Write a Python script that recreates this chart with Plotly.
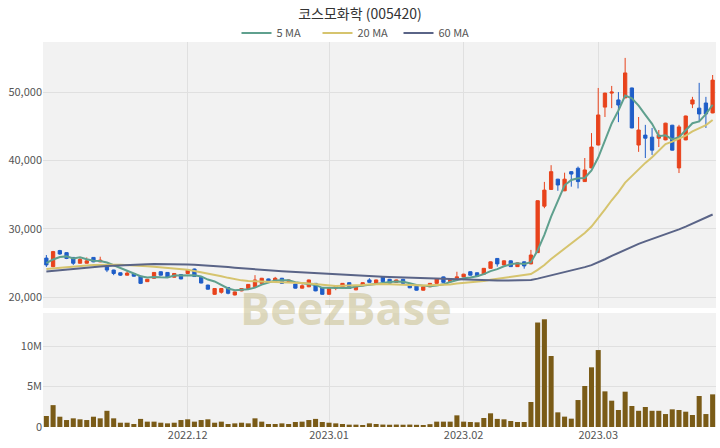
import pandas as pd
import plotly.graph_objects as go

# ---------------- data ----------------
holidays = ["2022-12-30", "2023-01-23", "2023-01-24", "2023-03-01"]
dates = [d.strftime("%Y-%m-%d") for d in pd.bdate_range("2022-11-02", "2023-03-27")
         if d.strftime("%Y-%m-%d") not in holidays]

month_ticks = ["2022-12-01", "2023-01-02", "2023-02-01", "2023-03-02"]
month_labels = ["2022.12", "2023.01", "2023.02", "2023.03"]

opens = [25700, 24450, 26800, 26500, 25800, 24950, 24950, 25800, 25150, 24700,
         23950, 23550, 23200, 23450, 23050, 22250, 22750, 23700, 23600, 22900,
         23300, 23450, 24100, 22900, 21750, 20400, 20700, 21400, 20300, 20900,
         21250, 21500, 22000, 22650, 22250, 22750, 22250, 21900, 21300, 21500,
         22000, 21350, 20400, 21250, 21350, 22100, 21050, 21650, 22500, 22000,
         22950, 22600, 22150, 22600, 21850, 21600, 21000, 21500, 22000, 22950,
         22250, 22750, 22950, 23700, 23550, 23350, 24200, 25650, 24700, 25300,
         24450, 25150, 24850, 26500, 33300, 35750, 37250, 35550, 38350, 38850,
         36900, 38900, 42250, 47800, 49850, 48850, 49150, 50600, 42250, 43700,
         43400, 43250, 43000, 45150, 38900, 43000, 48250, 47650, 48400, 46950]
highs = [26150, 26750, 26900, 26550, 25850, 25800, 25800, 25850, 25900, 24750,
         24000, 23600, 23850, 23500, 23100, 22650, 23650, 23750, 23650, 23500,
         23350, 24000, 24150, 22950, 21800, 21300, 21300, 21450, 20800, 21300,
         21900, 23200, 22800, 22700, 22950, 22800, 22550, 21950, 21850, 22550,
         22050, 21400, 21300, 21700, 22050, 22150, 21550, 22150, 22750, 22550,
         23000, 22650, 22550, 22650, 21900, 21650, 21550, 22050, 22700, 23000,
         22700, 23700, 23400, 23750, 23600, 24250, 25200, 25700, 25350, 25350,
         25050, 25200, 26900, 34150, 36850, 39300, 37300, 38200, 38400, 39100,
         40350, 44000, 50600, 49900, 50900, 50000, 55000, 50650, 46350, 45200,
         44750, 44450, 45500, 45200, 45200, 46550, 49300, 51350, 49300, 52500]
lows = [24400, 24350, 26200, 25550, 24700, 24900, 24900, 25100, 25100, 23650,
        23200, 23100, 23150, 23000, 21900, 22200, 22700, 23150, 22850, 22850,
        22600, 23400, 22950, 22000, 21100, 20300, 20500, 20400, 20250, 20850,
        21200, 21450, 21950, 22200, 22200, 21950, 22200, 21250, 21250, 21450,
        20850, 20350, 20350, 21000, 21300, 21200, 21000, 21600, 22100, 21950,
        22200, 21950, 22100, 21950, 21300, 20950, 20950, 21450, 21950, 22100,
        22200, 22500, 22900, 23150, 23000, 23300, 24150, 24450, 24650, 24400,
        24400, 24150, 24800, 26450, 33000, 35700, 35550, 35500, 36150, 35900,
        36850, 38850, 42200, 46350, 47650, 45600, 49100, 44700, 41250, 40350,
        40800, 41950, 42950, 41450, 38150, 42950, 47650, 45600, 44750, 46900]
closes = [24700, 26650, 26300, 25650, 24950, 25500, 25300, 25150, 25400, 23950,
          23450, 23200, 23500, 23050, 22000, 22600, 23600, 23200, 22900, 23450,
          22650, 23950, 23000, 22050, 21150, 21250, 21250, 20550, 20750, 21250,
          21850, 22500, 22750, 22250, 22750, 22000, 22500, 21300, 21650, 22500,
          20900, 20400, 21250, 21650, 22000, 21250, 21500, 22100, 22150, 22500,
          22250, 22000, 22500, 22000, 21350, 21000, 21500, 22000, 22650, 22150,
          22650, 22950, 23350, 23200, 23050, 24200, 25150, 24850, 25300, 24450,
          25000, 24550, 26150, 34100, 35650, 38350, 36400, 37250, 38000, 36900,
          38600, 41950, 46650, 49850, 50000, 48100, 52800, 44750, 44450, 43250,
          41500, 43700, 45450, 41500, 44900, 46500, 48850, 46800, 46800, 51750]
volumes_m = [1.36, 2.7, 1.27, 0.86, 1.07, 0.95, 0.86, 1.27, 1.07, 2.0,
             1.07, 0.53, 0.53, 0.37, 1.0, 0.66, 0.66, 0.53, 0.45, 0.53,
             0.86, 0.95, 0.66, 0.86, 0.95, 0.53, 0.66, 0.37, 0.45, 0.53,
             0.45, 1.07, 0.66, 0.37, 0.37, 0.45, 0.37, 0.62, 0.66, 0.86,
             1.0, 0.62, 0.53, 0.45, 0.37, 0.29, 0.29, 0.25, 0.45, 0.37,
             0.3, 0.28, 0.3, 0.28, 0.3, 0.27, 0.25, 0.35, 0.66, 0.66,
             0.66, 1.44, 0.66, 0.62, 0.58, 1.11, 1.69, 1.0, 0.95, 0.74,
             0.62, 0.62, 3.09, 12.9, 13.3, 8.77, 1.81, 1.28, 1.03, 3.33,
             5.06, 7.37, 9.5, 4.4, 3.25, 2.1, 4.36, 2.59, 2.0, 2.47,
             2.0, 2.0, 1.6, 2.18, 2.1, 1.89, 1.48, 3.83, 1.6, 4.03]

# moving-average values before a full window exists
ma5_head = [24950, 25500, 25850, 25950]
ma20_head = [24100, 24200, 24300, 24400, 24480, 24560, 24620, 24680, 24720, 24740,
             24740, 24720, 24690, 24650, 24590, 24520, 24440, 24360, 24290]
ma60_head = [23750, 23850, 23950, 24050, 24150, 24250, 24330, 24400, 24470, 24530,
             24590, 24640, 24690, 24730, 24770, 24800, 24820, 24830, 24830, 24820,
             24800, 24770, 24730, 24680, 24620, 24550, 24470, 24380, 24290, 24200,
             24110, 24030, 23960, 23900, 23840, 23780, 23720, 23660, 23600, 23540,
             23480, 23420, 23370, 23320, 23270, 23220, 23170, 23120, 23070, 23020,
             22980, 22940, 22900, 22860, 22820, 22780, 22740, 22710, 22680]

# ---------------- derived ----------------
cs = pd.Series(closes, dtype=float)


def moving_average(head, n):
    full = cs.rolling(n).mean().tolist()
    return list(head) + full[len(head):]


ma5 = moving_average(ma5_head, 5)
ma20 = moving_average(ma20_head, 20)
ma60 = moving_average(ma60_head, 60)
volumes = [v * 1e6 for v in volumes_m]

FONT = "Noto Sans CJK KR, Noto Sans, sans-serif"
RED = "#e8431c"
BLUE = "#1f5ec8"

fig = go.Figure()
fig.add_trace(go.Candlestick(
    x=dates, open=opens, high=highs, low=lows, close=closes,
    increasing=dict(line=dict(color=RED, width=1), fillcolor=RED),
    decreasing=dict(line=dict(color=BLUE, width=1), fillcolor=BLUE),
    whiskerwidth=0, showlegend=False, xaxis="x", yaxis="y"))

for name, vals, col in [("5 MA", ma5, "#5fa08e"), ("20 MA", ma20, "#d6c46e"),
                        ("60 MA", ma60, "#5a6487")]:
    fig.add_trace(go.Scatter(x=dates, y=vals, mode="lines", name=name,
                             line=dict(color=col, width=2),
                             xaxis="x", yaxis="y"))

fig.add_trace(go.Bar(x=dates, y=volumes, marker=dict(color="#7a5b17", line=dict(width=0)),
                     showlegend=False, xaxis="x2", yaxis="y2"))

grid = "#e0e0e0"
tickfont = dict(family=FONT, size=11, color="#555555")

fig.update_layout(
    width=720, height=448,
    margin=dict(l=43, r=4, t=42, b=21, autoexpand=False),
    paper_bgcolor="white", plot_bgcolor="#f2f2f2",
    font=dict(family=FONT),
    bargap=0.25,
    title=dict(text="코스모화학 (005420)", x=0.5, xanchor="center",
               y=1 - 14 / 448, yanchor="middle",
               font=dict(family=FONT, size=14, color="#333333")),
    legend=dict(orientation="h", xref="container", x=358 / 720, xanchor="center",
                yref="container", y=1 - 33 / 448, yanchor="middle",
                font=dict(family=FONT, size=11, color="#555555"),
                bgcolor="rgba(0,0,0,0)", entrywidth=36, entrywidthmode="pixels"),
    xaxis=dict(type="category", domain=[0, 1], anchor="y", matches="x2",
               showticklabels=False, showgrid=True, gridcolor=grid,
               tickvals=month_ticks, ticks="", rangeslider=dict(visible=False),
               showline=False, zeroline=False, automargin=False),
    yaxis=dict(domain=[0.309, 1], range=[18390, 57330],
               tickvals=[20000, 30000, 40000, 50000], tickformat=",",
               showgrid=True, gridcolor=grid, zeroline=False, ticks="",
               tickfont=tickfont, automargin=False),
    xaxis2=dict(type="category", domain=[0, 1], anchor="y2",
                tickvals=month_ticks, ticktext=month_labels,
                showgrid=True, gridcolor=grid, ticks="", tickfont=tickfont,
                showline=False, zeroline=False, automargin=False),
    yaxis2=dict(domain=[0, 0.296], range=[0, 14.07e6],
                tickvals=[0, 5e6, 10e6], ticktext=["0", "5M", "10M"],
                showgrid=True, gridcolor=grid, zeroline=False, ticks="",
                tickfont=tickfont, automargin=False),
    annotations=[dict(text="<b>BeezBase</b>", xref="paper", yref="paper",
                      x=0.45, y=0.31, xanchor="center", yanchor="middle",
                      showarrow=False,
                      font=dict(family="Open Sans, sans-serif", size=45,
                                color="rgba(200,190,140,0.55)"))],
)

# remove the browser's default 8px body margin so the figure sits at (0, 0)
fig.write_html("out.html", config={"displayModeBar": False},
               post_script="document.body.style.margin='0';")
